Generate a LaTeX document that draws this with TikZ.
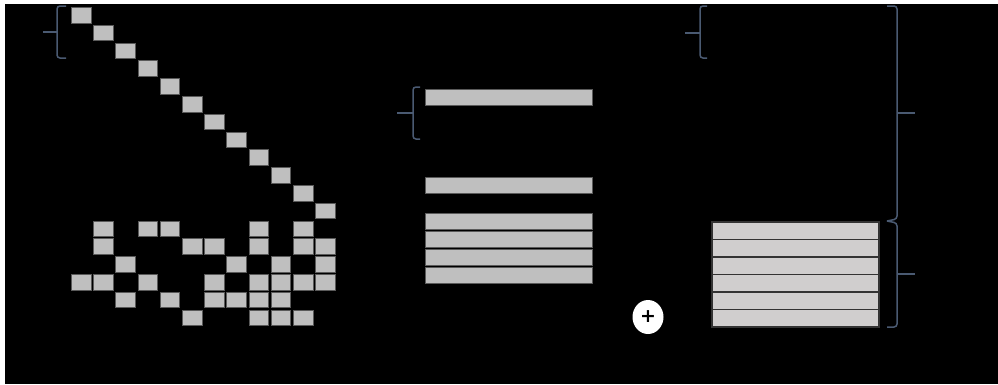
\documentclass[tikz,border=0pt]{standalone}
\usepackage{fontspec}
\newfontfamily\plusfont{DejaVu Sans}
\usetikzlibrary{shapes.geometric}
\definecolor{sqfill}{HTML}{BFBFBF}
\definecolor{sqedge}{HTML}{5A5A5A}
\definecolor{barfill}{HTML}{D0CECE}
\definecolor{braceclr}{HTML}{4A5A72}
\tikzset{
  sq/.style={draw=sqedge, fill=sqfill, line width=0.9pt, rectangle, inner sep=0pt, outer sep=0pt,
    minimum width=19.5pt, minimum height=15.5pt, anchor=north west},
  midbar/.style={draw=sqedge, fill=sqfill, line width=0.9pt},
  rbar/.style={draw=black!80, fill=barfill, line width=1.1pt},
  bracestyle/.style={draw=braceclr, line width=1.5pt, rounded corners=3pt}
}
\begin{document}
\begin{tikzpicture}[x=1pt,y=-1pt]
\useasboundingbox (0,0) rectangle (998,384);
\fill[white] (0,0) rectangle (998,384);
\fill[black] (5,4) rectangle (998,384);
% diagonal squares
\foreach \r in {0,...,11}{
  \node[sq] (d\r) at ({71.5+22.2*\r},{7.5+17.8*\r}) {};
}
% lower grid
\foreach \r/\cols in {12/{1,3,4,8,10},13/{1,5,6,8,10,11},14/{2,7,9,11},15/{0,1,3,6,8,9,10,11},16/{2,4,6,7,8,9},17/{5,8,9,10}}{
  \foreach \c in \cols {
    \node[sq] (g\r-\c) at ({71.5+22.2*\c},{7.5+17.8*\r}) {};
  }
}
% middle bars
\foreach \y [count=\i] in {89,177,213,231,249,267}{
  \draw[midbar] (425,\y) rectangle (592,{\y+16});
}
% right bars
\foreach \i in {0,...,5}{
  \draw[rbar] (712,{222+17.5*\i}) rectangle (879,{222+17.5*(\i+1)});
}
% plus circle
\node[ellipse, fill=white, minimum width=31pt, minimum height=34pt, inner sep=0pt] (plus) at (648,317)
  {\plusfont\bfseries\fontsize{19}{19}\selectfont +};
% braces (tip left)
\draw[bracestyle] (66,6) -- (57,6) -- (57,32) -- (57,58) -- (66,58);
\draw[braceclr, line width=1.5pt] (57,32) -- (43,32);
\draw[bracestyle] (420,87) -- (413,87) -- (413,139) -- (420,139);
\draw[braceclr, line width=1.5pt] (413,113) -- (397,113);
\draw[bracestyle] (707,6) -- (700,6) -- (700,58) -- (707,58);
\draw[braceclr, line width=1.5pt] (700,33) -- (685,33);
% braces (tip right)
\draw[bracestyle] (887,6) -- (897,6) -- (897,113) -- (897,219) -- (887,221);
\draw[braceclr, line width=1.5pt] (897,113) -- (915,113);
\draw[bracestyle] (887,221) -- (897,223) -- (897,327) -- (887,327);
\draw[braceclr, line width=1.5pt] (897,274) -- (915,274);
\end{tikzpicture}
\end{document}
